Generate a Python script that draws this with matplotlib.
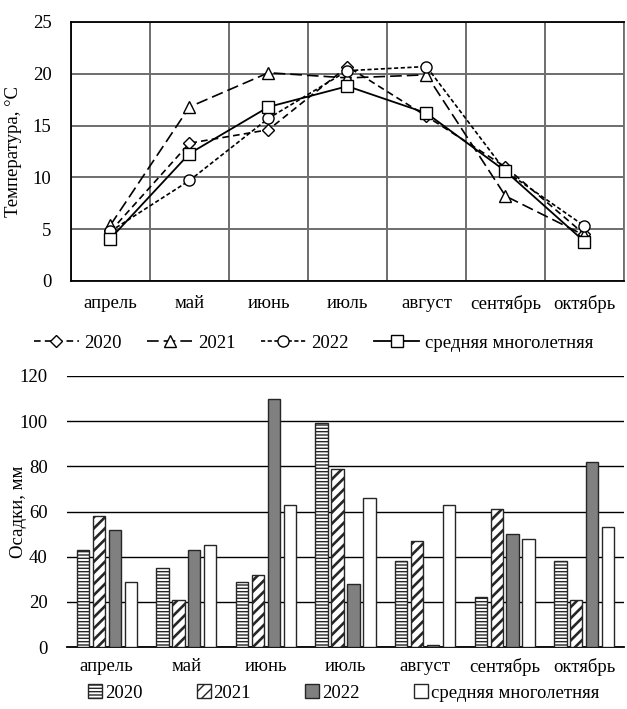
import matplotlib
matplotlib.use("Agg")
import matplotlib.pyplot as plt
import numpy as np
from matplotlib.patches import Patch

plt.rcParams['font.family'] = ['Liberation Serif', 'DejaVu Serif']
plt.rcParams['font.size'] = 13.5

months = ["апрель", "май", "июнь", "июль", "август", "сентябрь", "октябрь"]

# Среднемесячная температура воздуха, °C
temp_2020 = [4.8, 13.3, 14.6, 20.7, 15.9, 11.0, 4.5]
temp_2021 = [5.4, 16.8, 20.1, 19.6, 19.9, 8.2, 4.4]
temp_2022 = [4.8, 9.7, 15.7, 20.3, 20.7, 10.6, 5.3]
temp_avg = [4.1, 12.3, 16.8, 18.8, 16.2, 10.6, 3.8]

# Сумма осадков, мм
prec_2020 = [43, 35, 29, 99, 38, 22, 38]
prec_2021 = [58, 21, 32, 79, 47, 61, 21]
prec_2022 = [52, 43, 110, 28, 1, 50, 82]
prec_avg = [29, 45, 63, 66, 63, 48, 53]

series_labels = ["2020", "2021", "2022", "средняя многолетняя"]

fig = plt.figure(figsize=(6.27, 7.09), dpi=100)

# ---------- температура ----------
ax1 = fig.add_axes([0.1132, 0.6037, 0.8820, 0.3653])
x = np.arange(len(months))
styles = [
    dict(ls=(0, (4, 2.5)), marker='D', ms=6.5, lw=1.2),
    dict(ls=(0, (7, 3)), marker='^', ms=8, lw=1.2),
    dict(ls=(0, (2.5, 1.5)), marker='o', ms=8, lw=1.2),
    dict(ls='-', marker='s', ms=8, lw=1.3),
]
temps = [temp_2020, temp_2021, temp_2022, temp_avg]
handles = []
for vals, st, lab in zip(temps, styles, series_labels):
    ln, = ax1.plot(x, vals, color='black', linestyle=st['ls'], lw=st['lw'],
                   marker=st['marker'], ms=st['ms'], mfc='white', mec='black',
                   mew=1.0, label=lab)
    handles.append(ln)

ax1.set_xlim(-0.5, len(months) - 0.5)
ax1.set_ylim(0, 25)
ax1.set_yticks(range(0, 26, 5))
ax1.set_xticks(x)
ax1.set_xticklabels(months)
ax1.set_xticks(np.arange(-0.5, len(months), 1.0), minor=True)
ax1.tick_params(axis='x', which='both', length=0, pad=10)
ax1.tick_params(axis='y', length=0, pad=14)
ax1.grid(True, which='minor', axis='x', color='#6e6e6e', lw=1.4)
ax1.grid(True, which='major', axis='y', color='#6e6e6e', lw=1.4)
ax1.grid(False, which='major', axis='x')
ax1.set_axisbelow(True)
for sp in ax1.spines.values():
    sp.set_color('black')
    sp.set_linewidth(1.3)
ax1.spines['right'].set_color('#6e6e6e')
ax1.set_ylabel("Температура, °С")
ax1.yaxis.set_label_coords(-0.088, 0.5)

fig.legend(handles=handles, labels=series_labels, loc='center',
           bbox_to_anchor=(0.5, 1 - 343 / 709), ncol=4, frameon=False,
           handlelength=2.4, handletextpad=0.3, columnspacing=1.35,
           borderaxespad=0)

# ---------- осадки ----------
ax2 = fig.add_axes([0.1069, 0.0874, 0.8883, 0.3823])
precs = [prec_2020, prec_2021, prec_2022, prec_avg]
bar_styles = [
    dict(fc='white', hatch='-----', hlw=1.0),
    dict(fc='white', hatch='///', hlw=1.9),
    dict(fc='#808080', hatch=None, hlw=1.0),
    dict(fc='white', hatch=None, hlw=1.0),
]
step = 0.2
width = 0.155
offsets = (np.arange(4) - 1.5) * step
patch_handles = []
for vals, st, off, lab in zip(precs, bar_styles, offsets, series_labels):
    with plt.rc_context({'hatch.linewidth': st['hlw']}):
        ax2.bar(x + off, vals, width=width, color=st['fc'], edgecolor='#262626',
                lw=1.0, hatch=st['hatch'], zorder=3)
        patch_handles.append(Patch(facecolor=st['fc'], edgecolor='#262626',
                                   hatch=st['hatch'], lw=1.0, label=lab))

ax2.set_xlim(-0.5, len(months) - 0.5)
ax2.set_ylim(0, 120)
ax2.set_yticks(range(0, 121, 20))
ax2.set_xticks(x)
ax2.set_xticklabels(months)
ax2.tick_params(axis='x', length=0, pad=8)
ax2.tick_params(axis='y', length=0, pad=14)
ax2.grid(True, axis='y', color='black', lw=1.0)
ax2.set_axisbelow(True)
for side in ['top', 'right', 'left']:
    ax2.spines[side].set_visible(False)
ax2.spines['bottom'].set_color('black')
ax2.spines['bottom'].set_linewidth(1.3)
ax2.set_ylabel("Осадки, мм")
ax2.yaxis.set_label_coords(-0.072, 0.5)

fig.legend(handles=patch_handles, labels=series_labels, loc='center',
           bbox_to_anchor=(0.548, 1 - 693 / 709), ncol=4, frameon=False,
           handlelength=0.75, handleheight=0.75, handletextpad=0.15,
           columnspacing=2.9, borderaxespad=0)

fig.savefig("out.png", dpi=100)
